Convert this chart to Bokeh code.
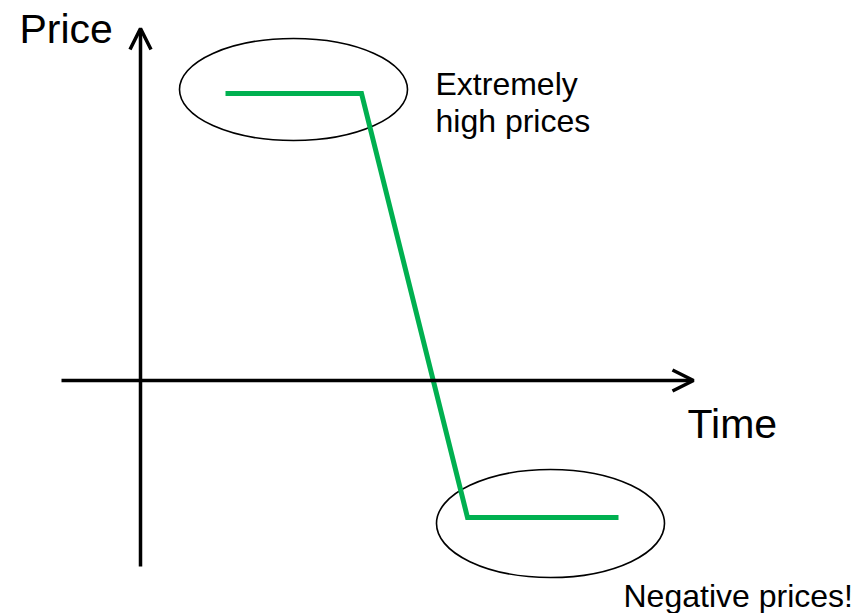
from bokeh.plotting import figure
from bokeh.models import Range1d, Arrow, OpenHead, Label
from bokeh.embed import file_html
from bokeh.resources import INLINE

# Price path over time (origin where the axes cross)
time = [85, 221, 327, 478]
price = [287, 287, -137, -137]

# Highlight regions around the two price extremes
region_x = [153, 410]
region_y = [291, -143]
region_w = [228, 228]
region_h = [102, 108]

# Axis extents
x_axis_start, x_axis_end = -79, 553
y_axis_start, y_axis_end = -186, 352

FONT = "Liberation Sans"
GREEN = "#00B050"

p = figure(width=854, height=613, output_backend="svg", toolbar_location=None,
           x_range=Range1d(-140, 714), y_range=Range1d(-233, 380),
           min_border=0, outline_line_color=None, background_fill_color="white",
           border_fill_color="white")
p.axis.visible = False
p.grid.visible = False

# Axes drawn as arrows
p.add_layout(Arrow(x_start=x_axis_start, y_start=0, x_end=x_axis_end, y_end=0,
                   line_width=3.5, line_color="black",
                   end=OpenHead(size=21, line_width=3.5, line_color="black")))
p.add_layout(Arrow(x_start=0, y_start=y_axis_start, x_end=0, y_end=y_axis_end,
                   line_width=3.5, line_color="black",
                   end=OpenHead(size=21, line_width=3.5, line_color="black")))

# Ellipses around the extremes
p.ellipse(x=region_x, y=region_y, width=region_w, height=region_h,
          fill_color=None, line_color="black", line_width=1.6)

# Price line
p.line(time, price, line_color=GREEN, line_width=5, line_join="miter")

labels = [
    ("Price", -121, 352, "41px"),
    ("Time", 547, -43, "41px"),
    ("Extremely", 295, 297, "32px"),
    ("high prices", 295, 260, "32px"),
    ("Negative prices!", 483, -215, "32px"),
]
for txt, lx, ly, size in labels:
    p.add_layout(Label(x=lx, y=ly, text=txt, text_font=FONT, text_font_size=size,
                       text_color="black", text_baseline="alphabetic", text_align="left"))

open("out.html", "w").write(file_html(p, INLINE))
